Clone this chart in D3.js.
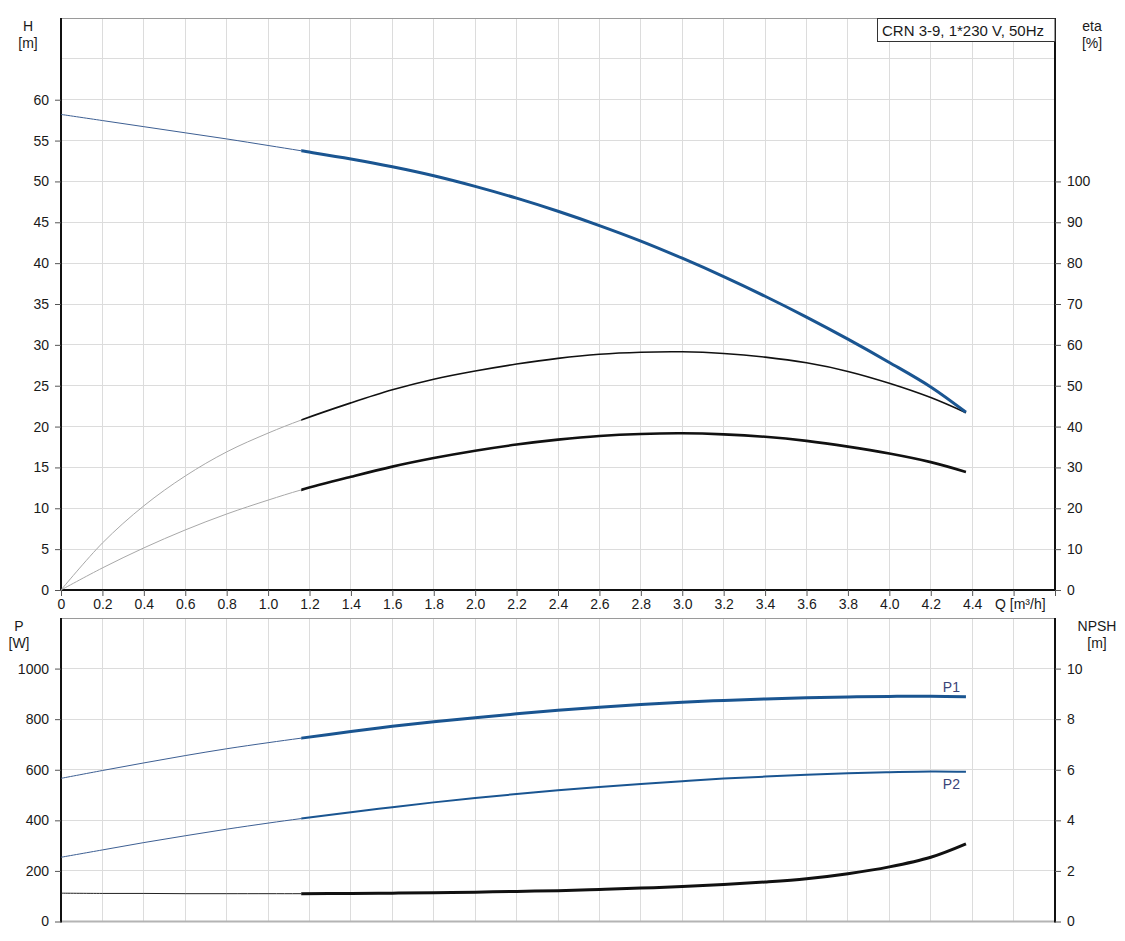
<!DOCTYPE html>
<html>
<head>
<meta charset="utf-8">
<script src="https://cdn.jsdelivr.net/npm/d3@7"></script>
<style>
  html, body { margin: 0; padding: 0; background: #fff; }
  svg { display: block; font-family: "Liberation Sans", Arial, sans-serif; }
</style>
</head>
<body>
<svg id="chart" width="1125" height="941"></svg>
<script>
// ---------------- data ----------------
const title = "CRN 3-9, 1*230 V, 50Hz";
const qStart = 1.16;               // start of the bold (operating) range
const qValues = [0, 0.2, 0.4, 0.6, 0.8, 1.0, 1.16, 1.4, 1.6, 1.8, 2.0, 2.2, 2.4, 2.6, 2.8, 3.0, 3.2, 3.4, 3.6, 3.8, 4.0, 4.2, 4.37];
const headH   = [58.2, 57.45, 56.7, 55.95, 55.2, 54.4, 53.75, 52.75, 51.8, 50.7, 49.4, 47.95, 46.35, 44.6, 42.7, 40.6, 38.35, 35.95, 33.4, 30.7, 27.85, 24.85, 21.75];
const etaPump = [0, 11.5, 20.6, 27.9, 33.8, 38.4, 41.6, 45.8, 49.0, 51.6, 53.6, 55.3, 56.7, 57.7, 58.2, 58.3, 57.9, 57.0, 55.6, 53.5, 50.6, 47.1, 43.4];
const etaTotal= [0, 5.4, 10.3, 14.7, 18.6, 22.0, 24.5, 27.7, 30.2, 32.3, 34.1, 35.6, 36.8, 37.7, 38.2, 38.35, 38.1, 37.5, 36.5, 35.1, 33.4, 31.3, 28.9];
const powerP1 = [566, 597, 627, 656, 683, 707, 725, 751, 772, 790, 806, 821, 835, 847, 858, 867, 874, 880, 885, 888, 890, 891, 889];
const powerP2 = [254, 283, 312, 339, 365, 389, 407, 432, 452, 471, 488, 504, 519, 532, 544, 555, 565, 573, 580, 586, 590, 593, 592];
const npsh    = [1.12, 1.11, 1.11, 1.10, 1.10, 1.10, 1.10, 1.11, 1.12, 1.14, 1.16, 1.19, 1.22, 1.27, 1.32, 1.38, 1.46, 1.56, 1.69, 1.89, 2.16, 2.54, 3.07];

const xTicks = [0, 0.2, 0.4, 0.6, 0.8, 1.0, 1.2, 1.4, 1.6, 1.8, 2.0, 2.2, 2.4, 2.6, 2.8, 3.0, 3.2, 3.4, 3.6, 3.8, 4.0, 4.2, 4.4];
const xGrid  = [0.2, 0.4, 0.6, 0.8, 1.0, 1.2, 1.4, 1.6, 1.8, 2.0, 2.2, 2.4, 2.6, 2.8, 3.0, 3.2, 3.4, 3.6, 3.8, 4.0, 4.2, 4.4, 4.6];
const xAxisTickMarks = [0, 0.2, 0.4, 0.6, 0.8, 1.0, 1.2, 1.4, 1.6, 1.8, 2.0, 2.2, 2.4, 2.6, 2.8, 3.0, 3.2, 3.4, 3.6, 3.8, 4.0, 4.2, 4.4, 4.6, 4.8];
const hTicks = [0, 5, 10, 15, 20, 25, 30, 35, 40, 45, 50, 55, 60];
const hGrid  = [5, 10, 15, 20, 25, 30, 35, 40, 45, 50, 55, 60, 65];
const etaTicks = [0, 10, 20, 30, 40, 50, 60, 70, 80, 90, 100];
const pTicks = [0, 200, 400, 600, 800, 1000];
const pGrid  = [200, 400, 600, 800, 1000];
const npshTicks = [0, 2, 4, 6, 8, 10];
const xLabel = "Q [m³/h]";

// ---------------- layout ----------------
const svg = d3.select("#chart");
const L = 61, R = 1055;
const top1 = 18, bot1 = 590;
const top2 = 618, bot2 = 921.5;
const TEXT = "#1a1a1a";
const GRID = "#dcdcdc";
const BLUE = "#1a5591";

const x = d3.scaleLinear().domain([0, 4.8]).range([L, R]);
const yH = d3.scaleLinear().domain([0, 70]).range([bot1, top1]);
const yEta = d3.scaleLinear().domain([0, 140]).range([bot1, top1]);
const yP = d3.scaleLinear().domain([0, 1200]).range([bot2, top2]);
const yN = d3.scaleLinear().domain([0, 12]).range([bot2, top2]);

// clip paths: thin (extrapolated) range and bold (operating) range
const defs = svg.append("defs");
defs.append("clipPath").attr("id", "clipThin").append("rect")
  .attr("x", 0).attr("y", 0).attr("width", x(qStart)).attr("height", 941);
defs.append("clipPath").attr("id", "clipThick").append("rect")
  .attr("x", x(qStart)).attr("y", 0).attr("width", 1125 - x(qStart)).attr("height", 941);

function grid(g, yScale, yVals, y0, y1) {
  g.selectAll("line.v").data(xGrid).join("line").attr("class", "v")
    .attr("x1", d => x(d)).attr("x2", d => x(d))
    .attr("y1", y0).attr("y2", y1)
    .attr("stroke", GRID).attr("stroke-width", 1);
  g.selectAll("line.h").data(yVals).join("line").attr("class", "h")
    .attr("x1", L).attr("x2", R)
    .attr("y1", d => yScale(d)).attr("y2", d => yScale(d))
    .attr("stroke", GRID).attr("stroke-width", 1);
}

// ---- grids & borders ----
grid(svg.append("g").attr("shape-rendering", "crispEdges"), yH, hGrid, top1, bot1);
svg.append("line").attr("x1", L).attr("x2", R).attr("y1", top1 + 0.5).attr("y2", top1 + 0.5)
  .attr("stroke", "#9a9a9a").attr("stroke-width", 1);

grid(svg.append("g").attr("shape-rendering", "crispEdges"), yP, pGrid, top2, bot2);
svg.append("line").attr("x1", L).attr("x2", R).attr("y1", top2 + 0.5).attr("y2", top2 + 0.5)
  .attr("stroke", "#9a9a9a").attr("stroke-width", 1);
svg.append("line").attr("x1", L).attr("x2", R).attr("y1", bot2).attr("y2", bot2)
  .attr("stroke", "#b4b4b4").attr("stroke-width", 2);

// ---------------- axes ----------------
function styleAxis(g) {
  g.selectAll("text").attr("fill", TEXT).style("font-size", "14px")
    .style("font-family", '"Liberation Sans", Arial, sans-serif');
  g.selectAll("line").attr("stroke", "#555");
  g.select(".domain").attr("stroke", "#111").attr("stroke-width", 2);
}
const fmtX = d => d === 0 ? "0" : d3.format(".1f")(d);

svg.append("g").attr("transform", `translate(${L},0)`)
  .call(d3.axisLeft(yH).tickValues(hTicks).tickSize(6).tickPadding(6).tickSizeOuter(0).tickFormat(d3.format("d")))
  .call(g => g.select(".domain").attr("d", `M0,${top1}V${bot1}`))
  .call(styleAxis);
svg.append("g").attr("transform", `translate(${R},0)`)
  .call(d3.axisRight(yEta).tickValues(etaTicks).tickSize(6).tickPadding(6).tickSizeOuter(0).tickFormat(d3.format("d")))
  .call(g => g.select(".domain").attr("d", `M0,${top1}V${bot1}`))
  .call(styleAxis);
svg.append("g").attr("transform", `translate(0,${bot1})`)
  .call(d3.axisBottom(x).tickValues(xAxisTickMarks).tickSize(6).tickPadding(3).tickSizeOuter(0)
    .tickFormat(d => xTicks.includes(d) ? fmtX(d) : ""))
  .call(g => g.select(".domain").attr("d", `M${L},0H${R}`))
  .call(styleAxis);
svg.append("text").attr("x", 995).attr("y", 609).attr("fill", TEXT)
  .style("font-size", "14px").text(xLabel);

svg.append("g").attr("transform", `translate(${L},0)`)
  .call(d3.axisLeft(yP).tickValues(pTicks).tickSize(6).tickPadding(6).tickSizeOuter(0).tickFormat(d3.format("d")))
  .call(g => g.select(".domain").attr("d", `M0,${top2}V${bot2 + 1}`))
  .call(styleAxis);
svg.append("g").attr("transform", `translate(${R},0)`)
  .call(d3.axisRight(yN).tickValues(npshTicks).tickSize(6).tickPadding(6).tickSizeOuter(0).tickFormat(d3.format("d")))
  .call(g => g.select(".domain").attr("d", `M0,${top2}V${bot2 + 1}`))
  .call(styleAxis);

function title2(xc, y1, t1, t2) {
  svg.append("text").attr("x", xc).attr("y", y1).attr("text-anchor", "middle")
    .attr("fill", TEXT).style("font-size", "14px").text(t1);
  svg.append("text").attr("x", xc).attr("y", y1 + 17).attr("text-anchor", "middle")
    .attr("fill", TEXT).style("font-size", "14px").text(t2);
}
title2(28, 31, "H", "[m]");
title2(1092, 31, "eta", "[%]");
title2(19, 631, "P", "[W]");
title2(1097, 631, "NPSH", "[m]");

// title box
svg.append("rect").attr("x", 877.5).attr("y", top1 + 0.5).attr("width", R - 877.5).attr("height", 23)
  .attr("fill", "#fff").attr("stroke", "#333").attr("stroke-width", 1);
svg.append("text").attr("x", 882).attr("y", 35.5).attr("fill", TEXT)
  .style("font-size", "15px").text(title);

// ---------------- curves ----------------
function drawCurve(vals, yScale, thin, thick) {
  const pts = qValues.map((q, i) => [q, vals[i]]);
  const line = d3.line().x(d => x(d[0])).y(d => yScale(d[1])).curve(d3.curveCatmullRom.alpha(0.5));
  const d = line(pts);
  svg.append("path").attr("d", d).attr("fill", "none").attr("clip-path", "url(#clipThin)")
    .attr("stroke", thin.color).attr("stroke-width", thin.width);
  svg.append("path").attr("d", d).attr("fill", "none").attr("clip-path", "url(#clipThick)")
    .attr("stroke", thick.color).attr("stroke-width", thick.width);
}

drawCurve(etaPump, yEta, {color: "#a8a8a8", width: 1}, {color: "#111", width: 1.6});
drawCurve(etaTotal, yEta, {color: "#a8a8a8", width: 1}, {color: "#111", width: 2.6});
drawCurve(headH, yH, {color: "#3d5f93", width: 1}, {color: BLUE, width: 3});

drawCurve(powerP1, yP, {color: "#3d5f93", width: 1}, {color: BLUE, width: 3});
drawCurve(powerP2, yP, {color: "#3d5f93", width: 1}, {color: BLUE, width: 2});
drawCurve(npsh, yN, {color: "#222", width: 1}, {color: "#111", width: 3});

// P1 / P2 labels
const lastQ = qValues[qValues.length - 1];
svg.append("text").attr("x", x(lastQ) - 6).attr("y", yP(powerP1[powerP1.length - 1]) - 5)
  .attr("text-anchor", "end").attr("fill", "#3a4478").style("font-size", "14px").text("P1");
svg.append("text").attr("x", x(lastQ) - 6).attr("y", yP(powerP2[powerP2.length - 1]) + 17)
  .attr("text-anchor", "end").attr("fill", "#3a4478").style("font-size", "14px").text("P2");
</script>
</body>
</html>
